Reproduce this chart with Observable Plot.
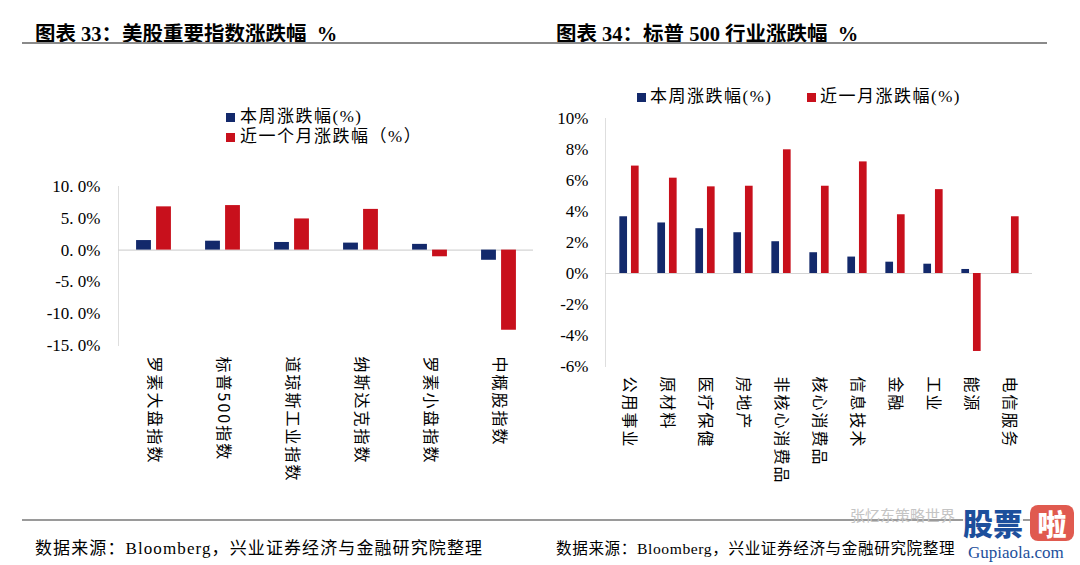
<!DOCTYPE html>
<html>
<head>
<meta charset="utf-8">
<script src="https://cdn.jsdelivr.net/npm/d3@7"></script>
<script src="https://cdn.jsdelivr.net/npm/@observablehq/plot@0.6"></script>
<style>
  html, body { margin: 0; padding: 0; background: #fff; }
  #root { position: relative; width: 1080px; height: 565px; overflow: hidden; background: #fff;
          font-family: "Liberation Serif", "Noto Sans CJK SC", serif; color: #000; }
  .abs { position: absolute; white-space: nowrap; }
  .title { font-size: 20.5px; font-weight: bold; top: 17px; font-family: "Liberation Serif", "Noto Sans CJK SC", serif; }
  .rule { position: absolute; background: #8a8a8a; height: 2px; }
  .legend { font-size: 17px; letter-spacing: 1.5px; font-family: "Liberation Serif", "Noto Sans CJK SC", serif; line-height: 20px; }
  .sw { position: absolute; width: 9px; height: 9px; }
  .foot { font-size: 17px; letter-spacing: 1.1px; top: 534px; font-family: "Liberation Serif", "Noto Sans CJK SC", serif; }
</style>
</head>
<body>
<div id="root">
  <div class="abs title" style="left:35px;">图表 33：美股重要指数涨跌幅&nbsp;&nbsp;%</div>
  <div class="abs title" style="left:556px;">图表 34：标普 500 行业涨跌幅&nbsp;&nbsp;%</div>
  <div class="rule" style="left:22px; top:42px; width:1025px;"></div>

  <div id="leftChart" class="abs" style="left:0px; top:170px;"></div>
  <div id="rightChart" class="abs" style="left:540px; top:100px;"></div>

  <div id="legendLeft"></div>
  <div id="legendRight"></div>

  <div class="rule" style="left:22px; top:519px; width:1025px; background:#9a9a9a;"></div>
  <div class="abs" style="left:850px; top:506px; font-size:15px; color:#c4c4c4; font-family:'Noto Sans CJK SC'; letter-spacing:0px; line-height:18px;">张忆东策略世界</div>
  <div class="abs foot" style="left:35px;">数据来源：Bloomberg，兴业证券经济与金融研究院整理</div>
  <div class="abs foot" style="left:556px; top:536px; font-size:15.6px; letter-spacing:0.6px;">数据来源：Bloomberg，兴业证券经济与金融研究院整理</div>
  <div class="abs" style="left:963px; top:503px; font-size:30px; font-weight:900; color:#1d4f9c; font-family:'Noto Sans CJK SC'; background:rgba(255,255,255,0.9); line-height:38px;">股票</div>
  <div class="abs" style="left:1030px; top:505px; width:44px; height:36px; background:#e05a4f; border-radius:8px; color:#fff; font-size:29px; font-weight:900; text-align:center; line-height:36px; font-family:'Noto Sans CJK SC';">啦</div>
  <div class="abs" style="left:968px; top:542px; font-size:17px; color:#1d4f9c; font-family:'Liberation Serif'; background:#fff; line-height:22px;">Gupiaola.com</div>
</div>
<script>
// ---------- Data ----------
const leftCategories = ["罗素大盘指数", "标普500指数", "道琼斯工业指数", "纳斯达克指数", "罗素小盘指数", "中概股指数"];
const leftWeekly = [1.5, 1.4, 1.2, 1.1, 0.9, -1.6];
const leftMonthly = [6.8, 7.0, 4.9, 6.4, -1.05, -12.6];
const leftTicks = [10, 5, 0, -5, -10, -15];
const leftTickLabels = ["10. 0%", "5. 0%", "0. 0%", "-5. 0%", "-10. 0%", "-15. 0%"];
const leftSeries = ["本周涨跌幅(%)", "近一个月涨跌幅（%）"];

const rightCategories = ["公用事业", "原材料", "医疗保健", "房地产", "非核心消费品", "核心消费品", "信息技术", "金融", "工业", "能源", "电信服务"];
const rightWeekly = [3.66, 3.26, 2.89, 2.63, 2.05, 1.34, 1.06, 0.73, 0.6, 0.26, 0];
const rightMonthly = [6.93, 6.15, 5.59, 5.63, 7.98, 5.63, 7.2, 3.79, 5.41, -5.03, 3.66];
const rightTicks = [10, 8, 6, 4, 2, 0, -2, -4, -6];
const rightTickLabels = ["10%", "8%", "6%", "4%", "2%", "0%", "-2%", "-4%", "-6%"];
const rightSeries = ["本周涨跌幅(%)", "近一月涨跌幅(%)"];

const NAVY = "#13296b";
const RED = "#c8101c";

function rows(cats, week, month) {
  const out = [];
  cats.forEach((c, i) => {
    out.push({cat: c, series: "week", value: week[i]});
    out.push({cat: c, series: "month", value: month[i]});
  });
  return out;
}

function chart(cfg) {
  const data = rows(cfg.cats, cfg.week, cfg.month);
  const band = (cfg.width - cfg.marginLeft - cfg.marginRight) / cfg.cats.length;
  const inset = (band - cfg.barW) / 2;
  const svg = Plot.plot({
    width: cfg.width,
    height: cfg.height,
    marginLeft: cfg.marginLeft,
    marginRight: cfg.marginRight,
    marginTop: cfg.marginTop,
    marginBottom: cfg.marginBottom,
    style: {background: "transparent", fontFamily: '"Noto Sans CJK SC", sans-serif', color: "#000", overflow: "visible"},
    x: {domain: cfg.cats, padding: 0, axis: null},
    y: {domain: cfg.yDomain, axis: null},
    marks: [
      Plot.frame({anchor: "left", stroke: "#dedede"}),
      Plot.ruleY([0], {stroke: "#d4d4d4", strokeWidth: 1.2}),
      Plot.axisY({
        ticks: cfg.ticks,
        tickFormat: d => cfg.tickLabels[cfg.ticks.indexOf(d)],
        tickSize: 0,
        tickPadding: cfg.tickPadding,
        fontSize: cfg.tickFont,
        fontFamily: "Liberation Serif",
        fill: "#000",
        label: null
      }),
      Plot.barY(data.filter(d => d.series === "week"), {
        x: "cat", y: "value", fill: NAVY, insetLeft: inset, insetRight: inset, dx: -cfg.offset
      }),
      Plot.barY(data.filter(d => d.series === "month"), {
        x: "cat", y: "value", fill: RED, insetLeft: inset, insetRight: inset, dx: cfg.offset
      }),
      Plot.text(cfg.cats, {
        x: d => d, frameAnchor: "bottom", rotate: 90, textAnchor: "start", lineAnchor: "middle",
        dy: cfg.labelGap, fontSize: 16, fill: "#000"
      })
    ]
  });
  d3.select(svg).selectAll('g[aria-label="text"] text').attr("letter-spacing", "2px");
  return svg;
}

document.getElementById("leftChart").appendChild(chart({
  cats: leftCategories, week: leftWeekly, month: leftMonthly,
  width: 540, height: 320, marginLeft: 118, marginRight: 7, marginTop: 16, marginBottom: 145,
  yDomain: [-15, 10], ticks: leftTicks, tickLabels: leftTickLabels,
  tickPadding: 18, tickFont: 17, barW: 15, offset: 10, labelGap: 11
}));

document.getElementById("rightChart").appendChild(chart({
  cats: rightCategories, week: rightWeekly, month: rightMonthly,
  width: 540, height: 400, marginLeft: 65, marginRight: 48, marginTop: 18, marginBottom: 134,
  yDomain: [-6, 10], ticks: rightTicks, tickLabels: rightTickLabels,
  tickPadding: 17, tickFont: 17, barW: 8.5, offset: 5.8, labelGap: 10
}));

// ---------- HTML legends ----------
function legend(id, items) {
  const host = document.getElementById(id);
  items.forEach(it => {
    const sw = document.createElement("div");
    sw.className = "sw";
    sw.style.left = it.sx + "px"; sw.style.top = it.sy + "px"; sw.style.background = it.color;
    host.appendChild(sw);
    const t = document.createElement("div");
    t.className = "abs legend";
    t.style.left = it.tx + "px"; t.style.top = (it.sy - 6) + "px";
    t.textContent = it.label;
    host.appendChild(t);
  });
}
legend("legendLeft", [
  {label: leftSeries[0], color: NAVY, sx: 226, sy: 113, tx: 240},
  {label: leftSeries[1], color: RED, sx: 226, sy: 133, tx: 240}
]);
legend("legendRight", [
  {label: rightSeries[0], color: NAVY, sx: 637, sy: 93, tx: 650},
  {label: rightSeries[1], color: RED, sx: 807, sy: 93, tx: 820}
]);
</script>
</body>
</html>
